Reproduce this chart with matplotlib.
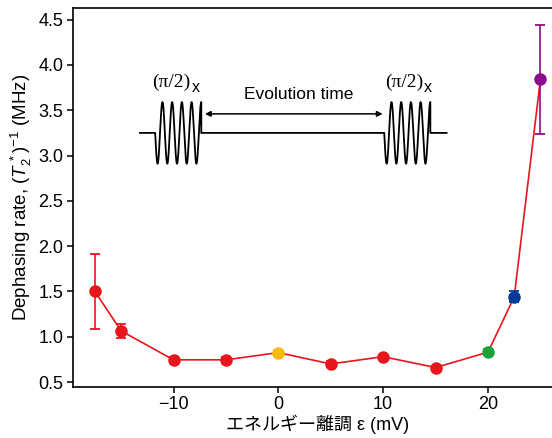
import numpy as np
import matplotlib
matplotlib.use("Agg")
import matplotlib.pyplot as plt

plt.rcParams['font.family'] = ['Liberation Sans', 'Noto Sans CJK JP']
plt.rcParams['mathtext.fontset'] = 'custom'
plt.rcParams['mathtext.rm'] = 'Liberation Sans'
plt.rcParams['mathtext.it'] = 'Liberation Sans:italic'
plt.rcParams['mathtext.sf'] = 'Liberation Sans'

# detuning (mV), dephasing rate (MHz), error
detuning = [-17.5, -15, -10, -5, 0, 5, 10, 15, 20, 22.5, 25]
rate = [1.50, 1.065, 0.745, 0.745, 0.825, 0.70, 0.78, 0.66, 0.83, 1.44, 3.84]
rate_err = [0.41, 0.075, 0.03, 0.03, 0.03, 0.03, 0.0, 0.0, 0.03, 0.06, 0.60]
point_colors = ['#E8151C', '#E8151C', '#E8151C', '#E8151C', '#F7BA0B',
                '#E8151C', '#E8151C', '#E8151C', '#1AA33A', '#003B98', '#8C0C8C']
xticks = [-10, 0, 10, 20]
yticks = [0.5, 1.0, 1.5, 2.0, 2.5, 3.0, 3.5, 4.0, 4.5]

fig = plt.figure(figsize=(5.52, 4.38), dpi=100)
ax = fig.add_axes([0.132, 0.117, 0.885, 0.865])

ax.plot(detuning, rate, color='#E8151C', lw=1.2, zorder=2)
for x, y, e, c in zip(detuning, rate, rate_err, point_colors):
    ax.errorbar(x, y, yerr=e if e > 0 else None, fmt='o', color=c, ms=8,
                ecolor=c, elinewidth=1.2, capsize=3.8, capthick=1.3, zorder=3)

# Ramsey pulse sketch
base = 3.25
amp = 0.34
def pulse(x0, x1, cycles=4.75):
    t = np.linspace(0, cycles, 600)
    xs = x0 + (x1 - x0) * t / cycles
    ys = base - amp * np.sin(2 * np.pi * t)
    return xs, ys

lx, ly = pulse(-11.75, -7.35)
rx, ry = pulse(10.1, 14.5)
sx = np.concatenate([[-13.2], lx, [-7.35], rx, [14.5, 16.05]])
sy = np.concatenate([[base], ly, [base], ry, [base, base]])
ax.plot(sx, sy, color='black', lw=1.3, zorder=2)

ax.annotate('', xy=(-7.0, 3.46), xytext=(9.95, 3.46),
            arrowprops=dict(arrowstyle='<|-|>', color='black', lw=1.1,
                            mutation_scale=8, shrinkA=0, shrinkB=0))
ax.text(1.95, 3.67, 'Evolution time', ha='center', va='center', fontsize=12.5)

for xc in (-8.8, 13.4):
    ax.text(xc + 0.45, 3.81, '(π/2)', family='Liberation Serif', fontsize=14,
            ha='right', va='center')
    ax.text(xc + 0.5, 3.75, 'x', fontsize=11.5, ha='left', va='center')

ax.set_xlim(-19.6, 27)
ax.set_ylim(0.448, 4.63)
ax.set_xticks(xticks)
ax.set_xticklabels(['\u221210', '0', '10', '20'])
ax.set_yticks(yticks)
ax.set_yticklabels([f'{v:.1f}' for v in yticks])
ax.tick_params(direction='out', length=4, width=1.1, labelsize=13, pad=3)
for s in ax.spines.values():
    s.set_linewidth(1.2)

ax.set_xlabel('エネルギー離調 ε (mV)', fontsize=13, labelpad=1)
ax.set_ylabel(r'Dephasing rate, $(T_2^{\,*})^{-1}$ (MHz)', fontsize=13.5, labelpad=3)

fig.savefig('out.png', dpi=100)
